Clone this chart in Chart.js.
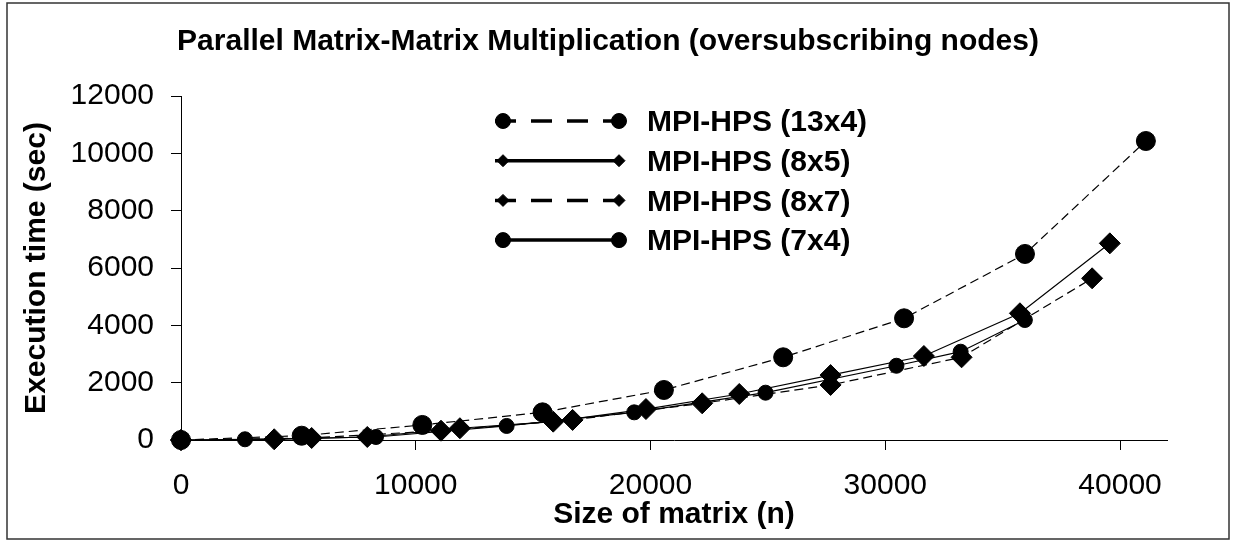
<!DOCTYPE html>
<html lang="en">
<head>
<meta charset="UTF-8">
<title>Parallel Matrix-Matrix Multiplication</title>
<script src="https://cdn.jsdelivr.net/npm/chart.js"></script>
<style>
  html, body { margin: 0; padding: 0; background: #fff; }
  #wrap { width: 1235px; height: 542px; }
</style>
</head>
<body>
<div id="wrap"><canvas id="chart" width="1235" height="542"></canvas></div>
<script>
  const chartTitle = 'Parallel Matrix-Matrix Multiplication (oversubscribing nodes)';
  const xTitle = 'Size of matrix (n)';
  const yTitle = 'Execution time (sec)';

  const seriesNames = ['MPI-HPS (13x4)', 'MPI-HPS (8x5)', 'MPI-HPS (8x7)', 'MPI-HPS (7x4)'];

  // matrix size (n) and execution time (sec)
  const n13x4 = [0, 5140, 10280, 15400, 20570, 25650, 30800, 35950, 41100];
  const t13x4 = [0, 150, 525, 965, 1745, 2885, 4245, 6490, 10430];

  const n8x5 = [0, 3970, 7935, 11880, 15855, 19805, 23780, 27670, 31645, 35735, 39565];
  const t8x5 = [0, 25, 105, 410, 640, 1080, 1605, 2265, 2930, 4420, 6860];

  const n8x7 = [0, 5565, 11075, 16680, 22200, 27670, 33250, 38810];
  const t8x7 = [0, 70, 325, 700, 1280, 1920, 2885, 5640];

  const n7x4 = [0, 2725, 8305, 13870, 19305, 24900, 30475, 33210, 35945];
  const t7x4 = [0, 25, 105, 490, 965, 1650, 2590, 3080, 4185];

  const xTicks = [0, 10000, 20000, 30000, 40000];
  const xMax = 42000;
  const yMax = 12000;
  const yStep = 2000;

  const FONT = "'Liberation Sans', Arial, Helvetica, sans-serif";

  function toPoints(xs, ys) {
    return xs.map((x, i) => ({ x: x, y: ys[i] }));
  }

  // line dash / marker for each series (plot and legend)
  const looks = [
    { dash: [9, 5], legendDash: [21, 15], style: 'circle', r: 9.5, legendR: 7.5 },
    { dash: [], legendDash: [], style: 'rectRot', r: 10.5, legendR: 6 },
    { dash: [9, 5], legendDash: [21, 15], style: 'rectRot', r: 10.5, legendR: 6 },
    { dash: [], legendDash: [], style: 'circle', r: 7.5, legendR: 7.5 }
  ];

  const allData = [
    toPoints(n13x4, t13x4),
    toPoints(n8x5, t8x5),
    toPoints(n8x7, t8x7),
    toPoints(n7x4, t7x4)
  ];

  const datasets = allData.map((pts, i) => ({
    label: seriesNames[i],
    data: pts,
    showLine: true,
    borderColor: '#000',
    borderWidth: 1.2,
    borderDash: looks[i].dash,
    pointStyle: looks[i].style,
    pointRadius: looks[i].r,
    pointBackgroundColor: '#000',
    pointBorderColor: '#000',
    pointBorderWidth: 1,
    tension: 0,
    clip: false
  }));

  // white page with a thin frame
  const framePlugin = {
    id: 'frame',
    beforeDraw(chart) {
      const ctx = chart.ctx;
      ctx.save();
      ctx.fillStyle = '#fff';
      ctx.fillRect(0, 0, chart.width, chart.height);
      ctx.strokeStyle = '#333';
      ctx.lineWidth = 1.5;
      ctx.strokeRect(7, 3, 1222, 536);
      ctx.restore();
    }
  };

  const titlePlugin = {
    id: 'mainTitle',
    afterDraw(chart) {
      const ctx = chart.ctx;
      ctx.save();
      ctx.fillStyle = '#000';
      ctx.font = 'bold 30px ' + FONT;
      ctx.textAlign = 'center';
      ctx.textBaseline = 'middle';
      ctx.fillText(chartTitle, 608, 42);
      ctx.restore();
    }
  };

  // legend with long sample lines and a marker at each end
  const legendPlugin = {
    id: 'lineLegend',
    afterDraw(chart) {
      const ctx = chart.ctx;
      const x1 = 503, x2 = 619;
      chart.data.datasets.forEach((ds, i) => {
        const y = 121 + i * 39.7;
        const lk = looks[i];
        ctx.save();
        ctx.strokeStyle = '#000';
        ctx.fillStyle = '#000';
        ctx.lineWidth = 3.5;
        ctx.setLineDash(lk.legendDash);
        ctx.beginPath();
        ctx.moveTo(x1 - 8, y);
        ctx.lineTo(x2, y);
        ctx.stroke();
        ctx.setLineDash([]);
        ctx.lineWidth = 1;
        [x1, x2].forEach(x => {
          ctx.beginPath();
          if (lk.style === 'circle') {
            ctx.arc(x, y, lk.legendR, 0, Math.PI * 2);
          } else {
            ctx.moveTo(x - lk.legendR, y);
            ctx.lineTo(x, y - lk.legendR);
            ctx.lineTo(x + lk.legendR, y);
            ctx.lineTo(x, y + lk.legendR);
            ctx.closePath();
          }
          ctx.fill();
          ctx.stroke();
        });
        ctx.font = 'bold 30px ' + FONT;
        ctx.textAlign = 'left';
        ctx.textBaseline = 'middle';
        ctx.fillText(ds.label, 647, y + 2);
        ctx.restore();
      });
    }
  };

  const axisGrid = {
    drawOnChartArea: false,
    drawTicks: true,
    tickLength: 10,
    color: '#000',
    lineWidth: 1
  };

  const plain = v => String(v);

  new Chart(document.getElementById('chart'), {
    type: 'scatter',
    data: { datasets: datasets },
    options: {
      responsive: false,
      animation: false,
      devicePixelRatio: 1,
      events: [],
      layout: { padding: { left: 0, top: 96, right: 68, bottom: 0 } },
      plugins: {
        legend: { display: false },
        title: { display: false },
        tooltip: { enabled: false }
      },
      scales: {
        x: {
          type: 'linear',
          min: 0,
          max: xMax,
          afterBuildTicks: s => { s.ticks = xTicks.map(v => ({ value: v })); },
          afterFit: s => { s.height = 102; },
          ticks: { color: '#000', font: { family: FONT, size: 30 }, padding: 18, maxRotation: 0, callback: plain },
          grid: axisGrid,
          border: { color: '#000', width: 1 },
          title: {
            display: true, text: xTitle, color: '#000',
            font: { family: FONT, size: 30, weight: 'bold' },
            padding: { top: 0, bottom: 9 }
          }
        },
        y: {
          min: 0,
          max: yMax,
          afterFit: s => { s.width = 181; },
          ticks: { stepSize: yStep, color: '#000', font: { family: FONT, size: 30 }, padding: 17, callback: plain },
          grid: axisGrid,
          border: { color: '#000', width: 1 },
          title: {
            display: true, text: yTitle, color: '#000',
            font: { family: FONT, size: 30, weight: 'bold' },
            padding: { top: 19, bottom: 0 }
          }
        }
      }
    },
    plugins: [framePlugin, titlePlugin, legendPlugin]
  });
</script>
</body>
</html>
